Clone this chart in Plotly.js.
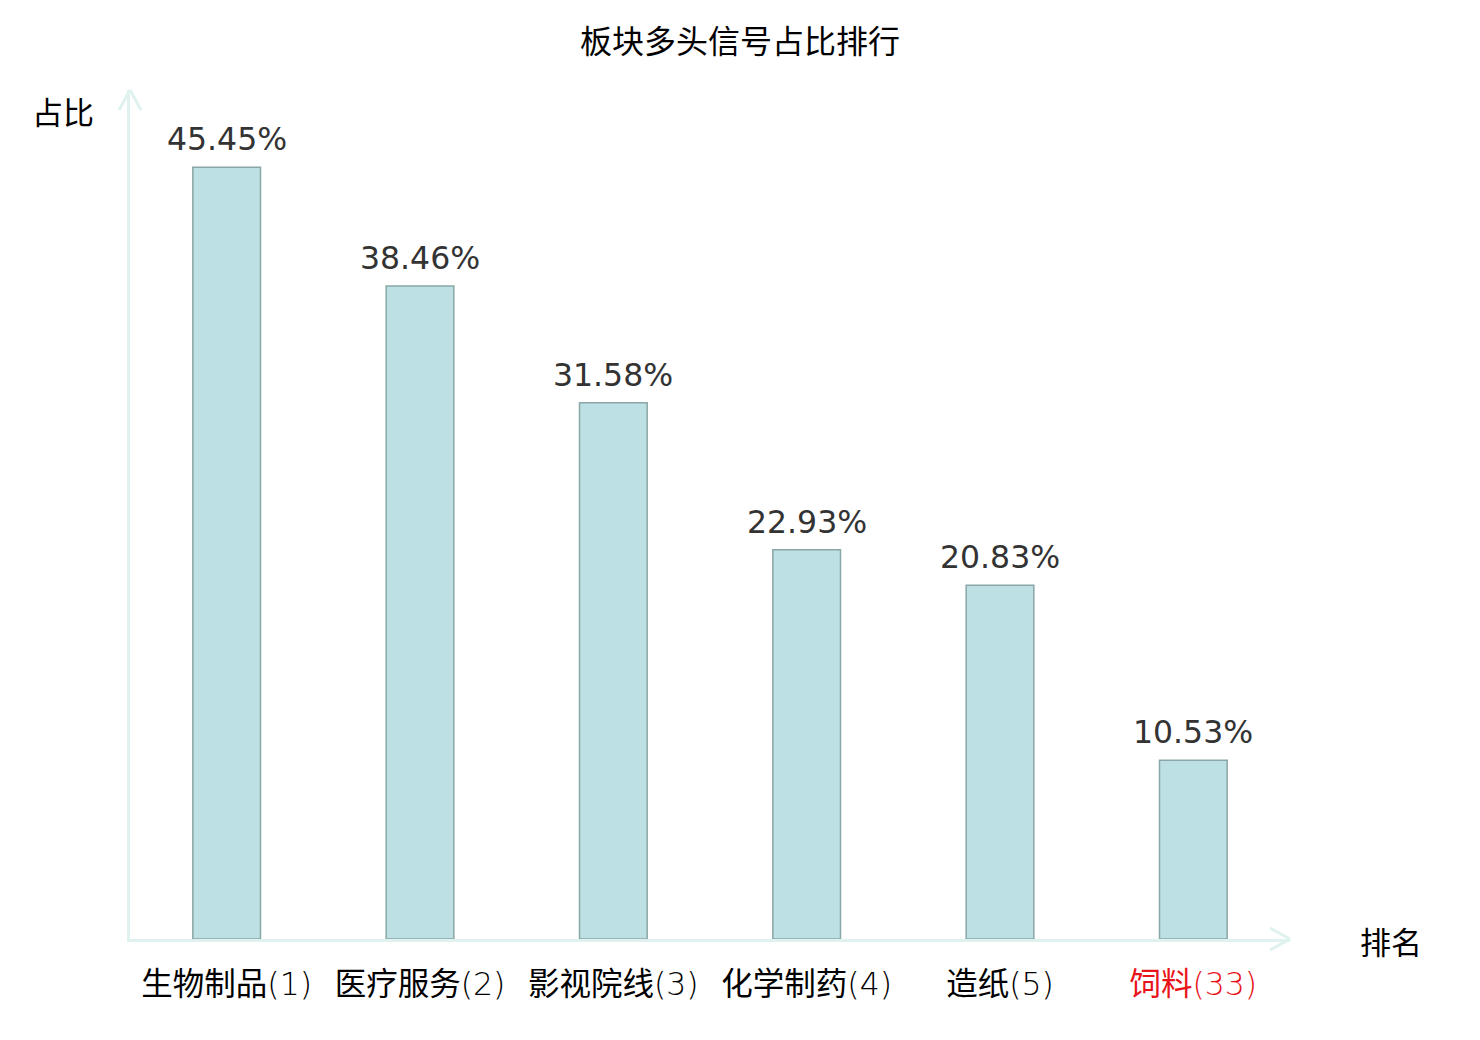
<!DOCTYPE html>
<html>
<head>
<meta charset="utf-8">
<script src="https://cdn.plot.ly/plotly-3.0.1.min.js"></script>
<style>
  body { margin: 0; background: #fff; }
  #chart { width: 1480px; height: 1040px; }
</style>
</head>
<body>
<div id="chart"></div>
<script>
// 板块多头信号占比
const sectors = ["生物制品", "医疗服务", "影视院线", "化学制药", "造纸", "饲料"];
const ranks = [1, 2, 3, 4, 5, 33];
const ratios = [45.45, 38.46, 31.58, 22.93, 20.83, 10.53];
const highlight = "饲料";

const axisColor = "#dff2ef";
const cjk = "Noto Sans CJK SC";

const tickText = sectors.map((s, i) => {
    const rank = `<span style="font-family:DejaVu Sans;font-weight:200">(${ranks[i]})</span>`;
    const label = s + rank;
    return s === highlight ? `<span style="color:#e8141a">${label}</span>` : label;
});

const data = [{
    type: "bar",
    x: sectors,
    y: ratios,
    width: 0.35,
    marker: {color: "#bce0e3", line: {color: "#8aa6a6", width: 1.5}},
    hoverinfo: "none"
}];

// value labels above the bars
const valueLabels = sectors.map((s, i) => ({
    x: s, y: ratios[i], xref: "x", yref: "y",
    text: ratios[i].toFixed(2) + "%",
    showarrow: false, xanchor: "center", yanchor: "middle", yshift: 28,
    font: {family: "DejaVu Sans", size: 31.5, color: "#333333"}
}));

// arrow heads drawn as two short line segments each
const arm = {type: "line", line: {color: axisColor, width: 3}};
const shapes = [
    // x axis arrow at right end
    {...arm, xref: "paper", yref: "paper", xsizemode: "pixel", ysizemode: "pixel",
        xanchor: 1, yanchor: 0, x0: -20, y0: 11, x1: 0, y1: 0},
    {...arm, xref: "paper", yref: "paper", xsizemode: "pixel", ysizemode: "pixel",
        xanchor: 1, yanchor: 0, x0: -20, y0: -11, x1: 0, y1: 0},
    // y axis arrow at top
    {...arm, xref: "paper", yref: "paper", xsizemode: "pixel", ysizemode: "pixel",
        xanchor: 0, yanchor: 1, x0: -11, y0: -20, x1: 0, y1: 0},
    {...arm, xref: "paper", yref: "paper", xsizemode: "pixel", ysizemode: "pixel",
        xanchor: 0, yanchor: 1, x0: 11, y0: -20, x1: 0, y1: 0}
];

const layout = {
    width: 1480,
    height: 1040,
    margin: {t: 90, b: 101, l: 130, r: 190},
    paper_bgcolor: "#ffffff",
    plot_bgcolor: "#ffffff",
    showlegend: false,
    title: {
        text: "板块多头信号占比排行",
        font: {family: cjk, size: 32, color: "#000"},
        x: 0.5, xref: "container", xanchor: "center",
        y: 1, yref: "container", yanchor: "top", pad: {t: 31}
    },
    xaxis: {
        type: "category",
        range: [-0.5, 5.5],
        tickvals: sectors,
        ticktext: tickText,
        tickfont: {family: cjk, size: 31.5, color: "#000"},
        ticks: "",
        ticklabelstandoff: 15,
        showgrid: false,
        zeroline: false,
        showline: true,
        linecolor: axisColor,
        linewidth: 3,
        fixedrange: true
    },
    yaxis: {
        range: [0, 50],
        showticklabels: false,
        ticks: "",
        showgrid: false,
        zeroline: false,
        showline: true,
        linecolor: axisColor,
        linewidth: 3,
        fixedrange: true
    },
    shapes: shapes,
    annotations: valueLabels.concat([
        {text: "占比", xref: "paper", yref: "paper", x: -0.058, y: 0.976,
            xanchor: "center", yanchor: "middle", showarrow: false,
            font: {family: cjk, size: 31, color: "#000"}},
        {text: "排名", xref: "paper", yref: "paper", x: 1.087, y: -0.002,
            xanchor: "center", yanchor: "middle", showarrow: false,
            font: {family: cjk, size: 31, color: "#000"}}
    ])
};

Plotly.newPlot("chart", data, layout, {displayModeBar: false, staticPlot: true});
</script>
</body>
</html>
